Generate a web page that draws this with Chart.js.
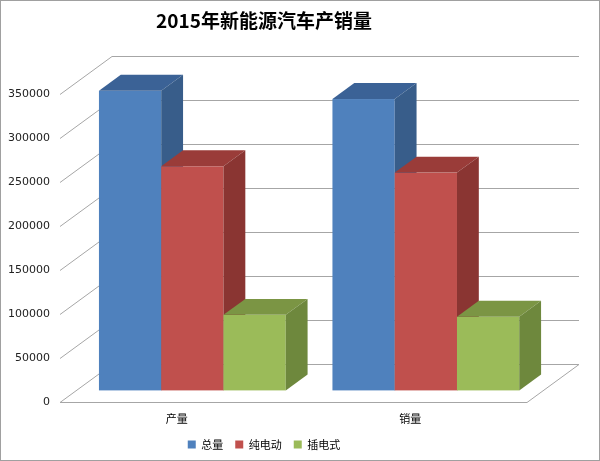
<!DOCTYPE html>
<html>
<head>
<meta charset="utf-8">
<script src="https://cdn.jsdelivr.net/npm/chart.js@4.4.1/dist/chart.umd.min.js"></script>
<style>
  body { margin: 0; background: #fff; }
  #wrap { width: 600px; height: 461px; box-sizing: border-box; border: 1px solid #a0a0a0; }
</style>
</head>
<body>
<div id="wrap"><canvas id="c"></canvas></div>
<script>
const categories = ['产量', '销量'];
const seriesNames = ['总量', '纯电动', '插电式'];
const totalVals = [340471, 331092];
const bevVals = [254633, 247482];
const phevVals = [85838, 83610];
const yTicks = [0, 50000, 100000, 150000, 200000, 250000, 300000, 350000];

const fronts = ['#4f81bd', '#c0504d', '#9bbb59'];
const tops = ['#3b6296', '#9a3c39', '#7b9544'];
const sides = ['#385d8a', '#8a3532', '#6e883d'];

// 3D depth of the plot floor and where the bars sit in it
const DX = 52, DY = 38;
const BAR_OFF = 0.3, BAR_DEPTH = 0.42;

const fake3d = {
    id: 'fake3d',
    beforeDatasetsDraw(chart) {
        const ctx = chart.ctx, a = chart.chartArea, y = chart.scales.y;
        ctx.save();
        ctx.strokeStyle = '#a6a6a6';
        ctx.lineWidth = 1;
        yTicks.forEach(t => {
            const py = Math.round(y.getPixelForValue(t)) + 0.5;
            ctx.beginPath();
            if (t === 0) {
                ctx.moveTo(a.left, py);
                ctx.lineTo(a.right, py);
                ctx.lineTo(a.right + DX, py - DY);
            }
            ctx.moveTo(a.left, py);
            ctx.lineTo(a.left + DX, py - DY);
            ctx.lineTo(a.right + DX, py - DY);
            ctx.stroke();
        });
        // bars, left to right
        const bars = [];
        chart.data.datasets.forEach((ds, i) => {
            chart.getDatasetMeta(i).data.forEach(el => bars.push({ el, i }));
        });
        bars.sort((p, q) => p.el.x - q.el.x);
        const ox = DX * BAR_OFF, oy = DY * BAR_OFF;
        const dx = DX * BAR_DEPTH, dy = DY * BAR_DEPTH;
        bars.forEach(({ el, i }) => {
            const l = el.x - el.width / 2 + ox, r = el.x + el.width / 2 + ox;
            const t = el.y - oy, b = el.base - oy;
            ctx.fillStyle = fronts[i];
            ctx.fillRect(l, t, r - l, b - t);
            ctx.fillStyle = tops[i];
            ctx.beginPath();
            ctx.moveTo(l, t); ctx.lineTo(l + dx, t - dy); ctx.lineTo(r + dx, t - dy); ctx.lineTo(r, t);
            ctx.closePath(); ctx.fill();
            ctx.fillStyle = sides[i];
            ctx.beginPath();
            ctx.moveTo(r, t); ctx.lineTo(r + dx, t - dy); ctx.lineTo(r + dx, b - dy); ctx.lineTo(r, b);
            ctx.closePath(); ctx.fill();
        });
        ctx.restore();
        return false;
    }
};

new Chart(document.getElementById('c'), {
    type: 'bar',
    data: {
        labels: categories,
        datasets: [
            { label: seriesNames[0], data: totalVals, backgroundColor: fronts[0] },
            { label: seriesNames[1], data: bevVals, backgroundColor: fronts[1] },
            { label: seriesNames[2], data: phevVals, backgroundColor: fronts[2] }
        ]
    },
    options: {
        responsive: true,
        maintainAspectRatio: false,
        animation: false,
        layout: { padding: { left: 0, right: 72, top: 0, bottom: 0 } },
        datasets: { bar: { barPercentage: 1, categoryPercentage: 0.8 } },
        scales: {
            x: {
                grid: { display: false },
                border: { display: false },
                ticks: { color: '#000', font: { size: 11, family: 'Noto Sans CJK SC' }, padding: 2 }
            },
            y: {
                min: 0, max: 350000,
                afterBuildTicks: s => { s.ticks = yTicks.map(v => ({ value: v })); },
                afterFit: s => { s.width = 59; },
                grid: { display: false, drawTicks: false },
                border: { display: false },
                ticks: { color: '#222', font: { size: 11, family: 'DejaVu Sans' }, padding: 10, callback: v => String(v) }
            }
        },
        plugins: {
            title: {
                display: true,
                text: '2015年新能源汽车产销量',
                color: '#000',
                font: { size: 19, weight: 'bold', family: 'Noto Sans CJK SC' },
                padding: { top: 8, bottom: 62 }
            },
            legend: {
                position: 'bottom',
                labels: { boxWidth: 8, boxHeight: 8, color: '#000', font: { size: 11, family: 'Noto Sans CJK SC' }, padding: 12 }
            },
            tooltip: { enabled: false }
        }
    },
    plugins: [fake3d]
});
</script>
</body>
</html>
